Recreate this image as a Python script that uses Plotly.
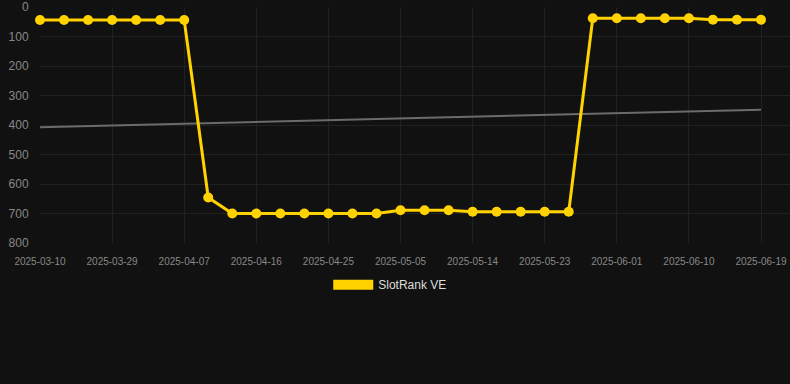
import plotly.graph_objects as go

dates = ["2025-03-10", "2025-03-17", "2025-03-23", "2025-03-29", "2025-04-01", "2025-04-04",
         "2025-04-07", "2025-04-10", "2025-04-13", "2025-04-16", "2025-04-19", "2025-04-22",
         "2025-04-25", "2025-04-28", "2025-05-02", "2025-05-05", "2025-05-08", "2025-05-11",
         "2025-05-14", "2025-05-17", "2025-05-20", "2025-05-23", "2025-05-26", "2025-05-29",
         "2025-06-01", "2025-06-04", "2025-06-07", "2025-06-10", "2025-06-13", "2025-06-16",
         "2025-06-19"]
rank = [44, 44, 44, 44, 44, 44, 44, 646, 700, 700, 700, 700, 700, 700, 700,
        689, 689, 689, 694, 694, 694, 694, 694, 38, 38, 38, 38, 38, 43, 43, 43]
trend_x = [dates[0], dates[-1]]
trend_y = [408, 348]
tick_labels = dates[::3]
y_ticks = [0, 100, 200, 300, 400, 500, 600, 700, 800]

YELLOW = "#FFD200"
BG = "#111111"
GRID = "#212121"

fig = go.Figure()
fig.add_trace(go.Scatter(x=trend_x, y=trend_y, mode="lines",
                         line=dict(color="#6b6b6b", width=2), showlegend=False,
                         hoverinfo="skip"))
fig.add_trace(go.Scatter(x=dates, y=rank, mode="lines+markers",
                         line=dict(color=YELLOW, width=3),
                         marker=dict(color=YELLOW, size=10),
                         cliponaxis=False,
                         showlegend=False, name="SlotRank VE"))
fig.add_trace(go.Scatter(x=[None], y=[None], mode="lines",
                         line=dict(color=YELLOW, width=10), name="SlotRank VE"))

fig.update_layout(
    width=790, height=384,
    paper_bgcolor=BG, plot_bgcolor=BG,
    margin=dict(l=40, r=0, t=7, b=141),
    font=dict(family="Arial, Liberation Sans, sans-serif", color="#888888"),
    showlegend=True,
    legend=dict(orientation="h", x=0.467, xanchor="center", y=-0.115, yanchor="top",
                itemwidth=40,
                font=dict(size=12, color="#dddddd"), bgcolor="rgba(0,0,0,0)"),
    xaxis=dict(type="category", categoryorder="array", categoryarray=dates,
               range=[0, 30 * 750 / 721],
               tickmode="array", tickvals=tick_labels, ticktext=tick_labels,
               tickfont=dict(size=10, color="#888888"),
               showgrid=True, gridcolor=GRID, gridwidth=1, zeroline=False,
               showline=False, ticks="outside", ticklen=9, tickcolor="rgba(0,0,0,0)"),
    yaxis=dict(range=[800, 0], tickmode="array", tickvals=y_ticks,
               tickfont=dict(size=12, color="#888888"),
               showgrid=True, gridcolor=GRID, gridwidth=1, zeroline=False,
               showline=False, ticks="outside", ticklen=8, tickcolor="rgba(0,0,0,0)"),
)

fig.write_html("out.html", config={"displayModeBar": False},
               post_script="document.body.style.margin='0';document.body.style.background='#111111';")
